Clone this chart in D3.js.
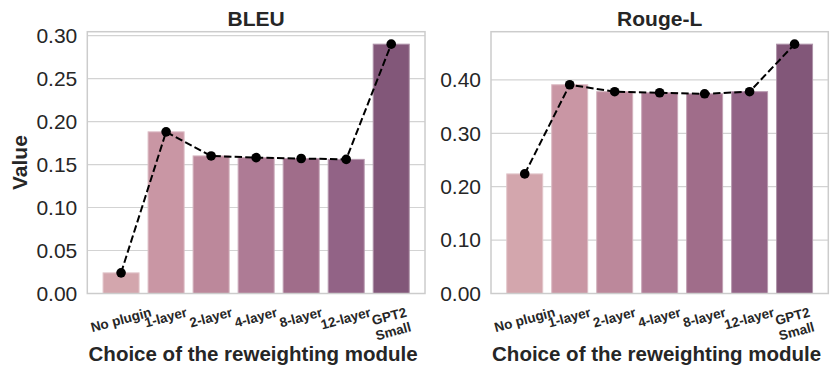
<!DOCTYPE html>
<html>
<head>
<meta charset="utf-8">
<script src="https://cdn.jsdelivr.net/npm/d3@7"></script>
<style>
  html, body { margin: 0; padding: 0; background: #fff; }
  svg { display: block; font-family: "Liberation Sans", Arial, sans-serif; }
</style>
</head>
<body>
<svg id="chart" width="833" height="369"></svg>
<script>
// Categories (reweighting module choices)
const categories = ["No plugin", "1-layer", "2-layer", "4-layer", "8-layer", "12-layer", "GPT2\nSmall"];

// Scores per metric
const bleuValues  = [0.024, 0.188, 0.160, 0.158, 0.157, 0.156, 0.290];
const rougeValues = [0.224, 0.391, 0.378, 0.376, 0.374, 0.378, 0.467];

// Tick labels for each panel's value axis
const bleuTicks  = [0.00, 0.05, 0.10, 0.15, 0.20, 0.25, 0.30];
const rougeTicks = [0.00, 0.10, 0.20, 0.30, 0.40];

const panelTitles = ["BLEU", "Rouge-L"];
const xAxisTitle = "Choice of the reweighting module";
const yAxisTitle = "Value";

// Sequential pink-to-purple palette, one colour per category
const barColors = ["#d3a6ad", "#c996a4", "#bc889b", "#ae7b95", "#a06d8a", "#926386", "#825779"];

const textColor = "#262626";
const gridColor = "#d3d3d3";
const frameColor = "#cccccc";

const svg = d3.select("#chart");
svg.append("rect").attr("width", 833).attr("height", 369).attr("fill", "#fff");

const plotTop = 31.7, plotBottom = 293.5;
const panels = [
  { left: 87.3, right: 425,   values: bleuValues,  ticks: bleuTicks,  fmt: d3.format(".2f"), title: panelTitles[0] },
  { left: 491,  right: 828.3, values: rougeValues, ticks: rougeTicks, fmt: d3.format(".2f"), title: panelTitles[1] }
];

const rot = 15 * Math.PI / 180;

panels.forEach((p, pi) => {
  const g = svg.append("g");
  const ymax = d3.max(p.values) * 1.05;

  const x = d3.scaleBand()
    .domain(categories)
    .range([p.left, p.right])
    .paddingInner(0.2)
    .paddingOuter(0.35);
  const y = d3.scaleLinear().domain([0, ymax]).range([plotBottom, plotTop]);

  // Horizontal grid lines
  g.append("g").selectAll("line").data(p.ticks).join("line")
    .attr("x1", p.left).attr("x2", p.right)
    .attr("y1", d => y(d)).attr("y2", d => y(d))
    .attr("stroke", gridColor).attr("stroke-width", 1.2);

  // Value axis tick labels
  const yAxis = d3.axisLeft(y).tickValues(p.ticks).tickFormat(p.fmt).tickSize(0).tickPadding(10);
  const ya = g.append("g").attr("transform", `translate(${p.left},0)`).call(yAxis);
  ya.select(".domain").remove();
  ya.selectAll("text")
    .attr("font-size", 21)
    .attr("fill", textColor)
    .attr("font-family", "Liberation Sans, Arial, sans-serif");

  // Bars
  g.append("g").selectAll("rect").data(p.values).join("rect")
    .attr("x", (d, i) => x(categories[i]))
    .attr("width", x.bandwidth())
    .attr("y", d => y(d))
    .attr("height", d => y(0) - y(d))
    .attr("fill", (d, i) => barColors[i])
    .attr("stroke", (d, i) => d3.interpolateRgb(barColors[i], "#ffffff")(0.35))
    .attr("stroke-width", 1);

  // Frame
  g.append("rect")
    .attr("x", p.left).attr("y", plotTop)
    .attr("width", p.right - p.left).attr("height", plotBottom - plotTop)
    .attr("fill", "none").attr("stroke", frameColor).attr("stroke-width", 1.5);

  // Dashed trend line with point markers
  const cx = (d, i) => x(categories[i]) + x.bandwidth() / 2;
  const line = d3.line().x(cx).y(d => y(d));
  g.append("path").datum(p.values)
    .attr("d", line)
    .attr("fill", "none").attr("stroke", "#000")
    .attr("stroke-width", 2).attr("stroke-dasharray", "7.4,3.2");
  g.append("g").selectAll("circle").data(p.values).join("circle")
    .attr("cx", cx).attr("cy", d => y(d)).attr("r", 4.8).attr("fill", "#000");

  // Rotated category labels
  const labelTop = 304.5;
  categories.forEach((c, i) => {
    const outer = g.append("g");
    const inner = outer.append("g").attr("transform", "rotate(-15)");
    const t = inner.append("text")
      .attr("text-anchor", "middle")
      .attr("font-size", 13.5)
      .attr("font-weight", "bold")
      .attr("fill", textColor);
    const lines = c.split("\n");
    lines.forEach((ln, li) => {
      t.append("tspan").attr("x", 0).attr("dy", li === 0 ? 0 : 15.5).text(ln);
    });
    const bb = t.node().getBBox();
    t.attr("transform", `translate(${-(bb.x + bb.width / 2)},${-(bb.y + bb.height / 2)})`);
    const rotH = bb.width * Math.sin(rot) + bb.height * Math.cos(rot);
    outer.attr("transform", `translate(${x(c) + x.bandwidth() / 2},${labelTop + rotH / 2})`);
  });

  // Panel title
  g.append("text")
    .attr("x", (p.left + p.right) / 2).attr("y", 25.5)
    .attr("text-anchor", "middle")
    .attr("font-size", 21).attr("font-weight", "bold").attr("fill", textColor)
    .text(p.title);

  // Category axis title
  g.append("text")
    .attr("x", (p.left + p.right) / 2 - 3).attr("y", 360.5)
    .attr("text-anchor", "middle")
    .attr("font-size", 20.5).attr("font-weight", "bold").attr("fill", textColor)
    .text(xAxisTitle);

  if (pi === 0) {
    g.append("text")
      .attr("transform", `translate(27,${(plotTop + plotBottom) / 2}) rotate(-90)`)
      .attr("text-anchor", "middle")
      .attr("font-size", 21).attr("font-weight", "bold").attr("fill", textColor)
      .text(yAxisTitle);
  }
});
</script>
</body>
</html>
